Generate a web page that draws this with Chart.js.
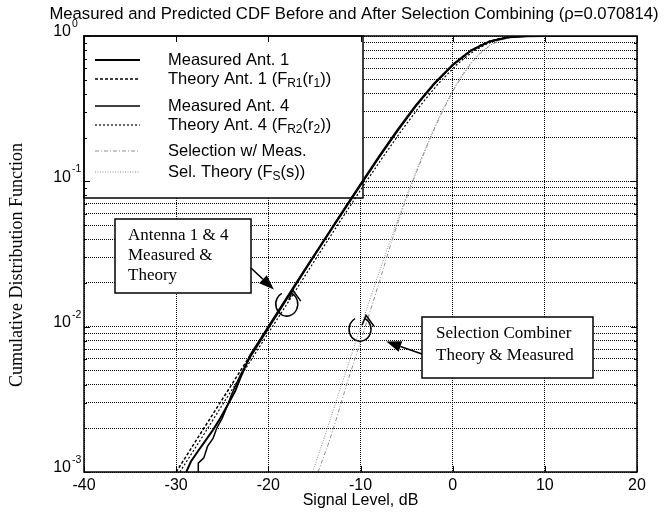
<!DOCTYPE html>
<html>
<head>
<meta charset="utf-8">
<script src="https://cdn.jsdelivr.net/npm/chart.js@4/dist/chart.umd.min.js"></script>
<style>
  html, body { margin: 0; padding: 0; background: #fff; }
</style>
</head>
<body>
<canvas id="cdfChart" width="664" height="519"></canvas>
<script>
const sans = "'Liberation Sans', Arial, sans-serif";
const serif = "'Liberation Serif', 'Times New Roman', serif";

const titleText = 'Measured and Predicted CDF Before and After Selection Combining (\u03c1=0.070814)';
const xAxisTitle = 'Signal Level, dB';
const yAxisTitle = 'Cumulative Distribution Function';
const yDecades = [1, 0.1, 0.01, 0.001];
const yExponents = ['0', '-1', '-2', '-3'];

// values
const measAnt1X = [-28.9, -28.4, -27.6, -26.8, -26.0, -25.2, -24.4, -23.6, -23.0, -22, -20, -18, -16, -14, -12, -10, -8, -6, -4, -2, 0, 2, 4, 6, 8, 10, 20];
const measAnt1Y = [0.0010, 0.00118, 0.00140, 0.00165, 0.00195, 0.00235, 0.0029, 0.0036, 0.0045, 0.0063, 0.0100, 0.0158, 0.0249, 0.0390, 0.0612, 0.0955, 0.148, 0.225, 0.333, 0.472, 0.635, 0.797, 0.918, 0.980, 0.997, 1.0, 1.0];

const theoAnt1X = [-30, -27.5, -25, -22.5, -20, -17.5, -15, -12.5, -10, -8, -6, -4, -2, 0, 1, 2, 3, 4, 5, 6, 7, 8, 10, 20];
const theoAnt1Y = [0.0010, 0.00178, 0.00316, 0.00561, 0.00995, 0.0176, 0.0311, 0.0547, 0.0952, 0.1466, 0.222, 0.328, 0.468, 0.632, 0.716, 0.795, 0.864, 0.919, 0.958, 0.981, 0.993, 0.998, 1.0, 1.0];

const measAnt4X = [-27.6, -27.6, -27.0, -26.6, -26.0, -25.6, -25.0, -24.5, -24.0, -23.5, -23.0, -22, -20, -18, -16, -14, -12, -10, -8, -6, -4, -2, 0, 2, 4, 6, 8, 10, 20];
const measAnt4Y = [0.0010, 0.00115, 0.00125, 0.00150, 0.00170, 0.00200, 0.00235, 0.0028, 0.0034, 0.0040, 0.0047, 0.0061, 0.0097, 0.0154, 0.0245, 0.0385, 0.0600, 0.0935, 0.145, 0.221, 0.328, 0.466, 0.628, 0.792, 0.915, 0.979, 0.996, 1.0, 1.0];

const theoAnt4X = [-29.6, -27.1, -24.6, -22.1, -19.6, -17.1, -14.6, -12.1, -9.6, -7.6, -5.6, -3.6, -1.6, 0.4, 1.4, 2.4, 3.4, 4.4, 5.4, 6.4, 7.4, 8.4, 10.4, 20];
const theoAnt4Y = [0.0010, 0.00177, 0.00317, 0.00560, 0.00990, 0.0175, 0.0310, 0.0545, 0.0950, 0.1460, 0.221, 0.327, 0.467, 0.631, 0.715, 0.794, 0.863, 0.918, 0.957, 0.980, 0.993, 0.998, 1.0, 1.0];

const selMeasX = [-14.6, -13.5, -12.5, -11.5, -10.5, -9.6, -8.6, -7.7, -6.8, -5.9, -4.9, -3.9, -2.9, -1.9, -0.9, 0.1, 1.1, 2.1, 3.1, 4.1, 5.1, 6.1, 7.1, 8.1, 10, 20];
const selMeasY = [0.0010, 0.00155, 0.00245, 0.0040, 0.0063, 0.0095, 0.0150, 0.0230, 0.0355, 0.053, 0.080, 0.117, 0.168, 0.236, 0.322, 0.425, 0.540, 0.660, 0.771, 0.864, 0.930, 0.970, 0.990, 0.9975, 1.0, 1.0];

const selTheoX = [-15.2, -14, -13, -12, -11, -10, -9, -8, -7, -6, -5, -4, -3, -2, -1, 0, 1, 2, 3, 4, 5, 6, 7, 8, 9, 10, 20];
const selTheoY = [0.0010, 0.00167, 0.00261, 0.00409, 0.00637, 0.00988, 0.01525, 0.0234, 0.0357, 0.0534, 0.0795, 0.116, 0.166, 0.234, 0.319, 0.421, 0.536, 0.656, 0.768, 0.861, 0.928, 0.969, 0.9896, 0.9973, 0.9995, 1.0, 1.0];

const seriesStyles = [
  { color: '#000', width: 2, dash: [] },
  { color: '#000', width: 1.5, dash: [3, 2] },
  { color: '#000', width: 1.5, dash: [] },
  { color: '#000', width: 1.2, dash: [2, 2] },
  { color: '#8c8c8c', width: 1, dash: [4, 2, 1, 2] },
  { color: '#8c8c8c', width: 1, dash: [1, 1.5] }
];

const legendRich = [
  [['Measured Ant. 1', 0]],
  [['Theory Ant. 1 (F', 0], ['R1', 1], ['(r', 0], ['1', 1], ['))', 0]],
  [['Measured Ant. 4', 0]],
  [['Theory Ant. 4 (F', 0], ['R2', 1], ['(r', 0], ['2', 1], ['))', 0]],
  [['Selection w/ Meas.', 0]],
  [['Sel. Theory (F', 0], ['S', 1], ['(s))', 0]]
];
const legendRowY = [60, 79, 106, 125, 151, 172];

const seriesXY = [
  [measAnt1X, measAnt1Y], [theoAnt1X, theoAnt1Y],
  [measAnt4X, measAnt4Y], [theoAnt4X, theoAnt4Y],
  [selMeasX, selMeasY], [selTheoX, selTheoY]
];

const datasets = seriesXY.map(([xs, ys], i) => ({
  data: xs.map((x, k) => ({ x: x, y: ys[k] })),
  showLine: true,
  pointRadius: 0,
  borderColor: seriesStyles[i].color,
  borderWidth: seriesStyles[i].width,
  borderDash: seriesStyles[i].dash,
  tension: 0
}));

function drawRich(ctx, parts, x, y) {
  ctx.textBaseline = 'middle';
  ctx.textAlign = 'left';
  parts.forEach(([t, sub]) => {
    ctx.font = sub ? '12px ' + sans : '16.5px ' + sans;
    ctx.fillText(t, x, sub ? y + 5 : y);
    x += ctx.measureText(t).width;
  });
}

function arrow(ctx, x1, y1, x2, y2) {
  const a = Math.atan2(y2 - y1, x2 - x1);
  const len = 15, hw = 5.5;
  const bx = x2 - len * Math.cos(a), by = y2 - len * Math.sin(a);
  ctx.beginPath();
  ctx.moveTo(x1, y1);
  ctx.lineTo(bx, by);
  ctx.lineWidth = 1.5;
  ctx.stroke();
  ctx.beginPath();
  ctx.moveTo(x2, y2);
  ctx.lineTo(bx + hw * Math.sin(a), by - hw * Math.cos(a));
  ctx.lineTo(bx - hw * Math.sin(a), by + hw * Math.cos(a));
  ctx.closePath();
  ctx.fill();
}

function loopMark(ctx, cx, cy) {
  ctx.beginPath();
  ctx.ellipse(cx, cy, 11, 12, 0, -0.35 * Math.PI, 1.35 * Math.PI);
  ctx.lineWidth = 1.5;
  ctx.stroke();
  ctx.beginPath();
  ctx.moveTo(cx + 2, cy - 4);
  ctx.lineTo(cx + 6, cy - 14);
  ctx.lineTo(cx + 14, cy - 3);
  ctx.stroke();
}

const decorPlugin = {
  id: 'decor',
  beforeDatasetsDraw(chart) {
    const ctx = chart.ctx;
    ctx.save();
    // legend box
    ctx.fillStyle = '#fff';
    ctx.fillRect(84, 36, 279, 162);
    ctx.strokeStyle = '#000';
    ctx.lineWidth = 1.5;
    ctx.strokeRect(84, 36, 279, 162);
    legendRich.forEach((parts, i) => {
      const st = seriesStyles[i];
      const y = legendRowY[i];
      ctx.beginPath();
      ctx.strokeStyle = st.color;
      ctx.lineWidth = st.width;
      ctx.setLineDash(st.dash);
      ctx.moveTo(95, y);
      ctx.lineTo(140, y);
      ctx.stroke();
      ctx.setLineDash([]);
      ctx.fillStyle = '#000';
      drawRich(ctx, parts, 168, y);
    });
    // annotation boxes
    ctx.strokeStyle = '#000';
    ctx.lineWidth = 1.5;
    ctx.fillStyle = '#fff';
    ctx.fillRect(115, 219, 136, 74);
    ctx.strokeRect(115, 219, 136, 74);
    ctx.fillRect(422, 317, 171, 61);
    ctx.strokeRect(422, 317, 171, 61);
    ctx.fillStyle = '#000';
    ctx.font = '17px ' + serif;
    ctx.textAlign = 'left';
    ctx.textBaseline = 'middle';
    ctx.fillText('Antenna 1 & 4', 128, 236);
    ctx.fillText('Measured &', 128, 256);
    ctx.fillText('Theory', 128, 276);
    ctx.fillText('Selection Combiner', 436, 334);
    ctx.fillText('Theory & Measured', 436, 356);
    ctx.restore();
  },
  afterDatasetsDraw(chart) {
    const ctx = chart.ctx;
    const xs = chart.scales.x, ys = chart.scales.y;
    ctx.save();
    ctx.strokeStyle = '#000';
    ctx.fillStyle = '#000';
    arrow(ctx, 251, 268, xs.getPixelForValue(-19.4), ys.getPixelForValue(0.018));
    arrow(ctx, 422, 354, xs.getPixelForValue(-7.2), ys.getPixelForValue(0.0079));
    loopMark(ctx, xs.getPixelForValue(-18.0), ys.getPixelForValue(0.0143));
    loopMark(ctx, xs.getPixelForValue(-10.05), ys.getPixelForValue(0.0096));
    ctx.restore();
  },
  afterDraw(chart) {
    const ctx = chart.ctx;
    const a = chart.chartArea;
    const xs = chart.scales.x, ys = chart.scales.y;
    ctx.save();
    ctx.strokeStyle = '#000';
    ctx.lineWidth = 1.5;
    ctx.strokeRect(a.left, a.top, a.right - a.left, a.bottom - a.top);
    // inner tick marks
    ctx.lineWidth = 1;
    xs.ticks.forEach(t => {
      const px = Math.round(xs.getPixelForValue(t.value)) + 0.5;
      ctx.beginPath();
      ctx.moveTo(px, a.bottom); ctx.lineTo(px, a.bottom - 6);
      ctx.moveTo(px, a.top); ctx.lineTo(px, a.top + 6);
      ctx.stroke();
    });
    ys.ticks.forEach(t => {
      const py = Math.round(ys.getPixelForValue(t.value)) + 0.5;
      const major = yDecades.some(d => Math.abs(d - t.value) < d * 1e-6);
      const len = major ? 6 : 3;
      ctx.beginPath();
      ctx.moveTo(a.left, py); ctx.lineTo(a.left + len, py);
      ctx.moveTo(a.right, py); ctx.lineTo(a.right - len, py);
      ctx.stroke();
    });
    // y tick labels 10^n
    ctx.fillStyle = '#000';
    ctx.textBaseline = 'middle';
    yDecades.forEach((d, i) => {
      const py = ys.getPixelForValue(d);
      ctx.font = '16px ' + sans;
      ctx.textAlign = 'right';
      ctx.fillText('10', 71, py - 4);
      ctx.font = '10.5px ' + sans;
      ctx.textAlign = 'left';
      ctx.fillText(yExponents[i], 72, py - 12);
    });
    // title and axis titles
    ctx.font = '16.7px ' + sans;
    ctx.textAlign = 'center';
    ctx.fillText(titleText, 354, 14);
    ctx.font = '16px ' + sans;
    ctx.fillText(xAxisTitle, (a.left + a.right) / 2, 501);
    ctx.font = '18px ' + serif;
    ctx.translate(17, 265);
    ctx.rotate(-Math.PI / 2);
    ctx.fillText(yAxisTitle, 0, 0);
    ctx.restore();
  }
};

const minorTicks = [];
[0.001, 0.01, 0.1].forEach(d => { for (let k = 1; k <= 9; k++) minorTicks.push(k * d); });
minorTicks.push(1);

new Chart(document.getElementById('cdfChart').getContext('2d'), {
  type: 'scatter',
  data: { datasets: datasets },
  options: {
    responsive: false,
    animation: false,
    layout: { padding: { top: 36, right: 27, left: 0, bottom: 0 } },
    plugins: { legend: { display: false }, tooltip: { enabled: false } },
    scales: {
      x: {
        type: 'linear',
        min: -40,
        max: 20,
        ticks: { stepSize: 10, color: '#000', font: { family: sans, size: 16 }, padding: 4 },
        grid: { color: '#000', lineWidth: 1, drawTicks: false },
        border: { display: false, dash: [1, 1] },
        afterFit: s => { s.height = 47; }
      },
      y: {
        type: 'logarithmic',
        min: 0.001,
        max: 1,
        ticks: { display: false },
        grid: { color: '#000', lineWidth: 1, drawTicks: false },
        border: { display: false, dash: [1, 1] },
        afterBuildTicks: s => { s.ticks = minorTicks.map(v => ({ value: v })); },
        afterFit: s => { s.width = 84; }
      }
    }
  },
  plugins: [decorPlugin]
});
</script>
</body>
</html>
